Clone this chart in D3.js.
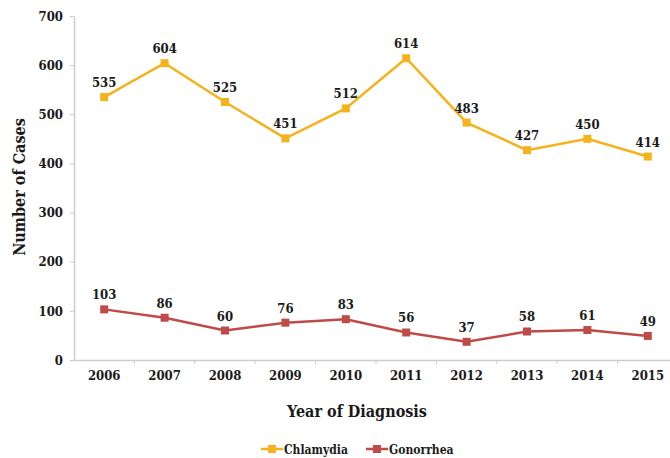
<!DOCTYPE html>
<html>
<head>
<meta charset="utf-8">
<script src="https://cdn.jsdelivr.net/npm/d3@7"></script>
<style>
  body { margin: 0; background: #fff; }
  svg text { font-family: "DejaVu Serif Condensed", "DejaVu Serif", serif; font-weight: bold; fill: #1a1a1a; }
  .axis path, .axis line { stroke: #c9cdd2; }
</style>
</head>
<body>
<svg width="670" height="458"></svg>
<script>
// data
const years = ['2006', '2007', '2008', '2009', '2010', '2011', '2012', '2013', '2014', '2015'];
const chlamydia = [535, 604, 525, 451, 512, 614, 483, 427, 450, 414];
const gonorrhea = [103, 86, 60, 76, 83, 56, 37, 58, 61, 49];
const yTicks = [0, 100, 200, 300, 400, 500, 600, 700];

const series = [
  { name: 'Chlamydia', values: chlamydia, color: '#f5b21b' },
  { name: 'Gonorrhea', values: gonorrhea, color: '#be4b48' }
];

const svg = d3.select('svg');

const plotLeft = 74, plotRight = 678, plotTop = 16, plotBottom = 360;

const xScale = d3.scaleBand()
  .domain(years)
  .range([plotLeft, plotRight]);

const yScale = d3.scaleLinear()
  .domain([0, 700])
  .range([plotBottom, plotTop]);

// y axis
const yAxis = svg.append('g')
  .attr('class', 'axis')
  .attr('transform', `translate(${plotLeft},0)`)
  .call(d3.axisLeft(yScale).tickValues(yTicks).tickSize(4).tickSizeOuter(0).tickPadding(7));
yAxis.selectAll('text').style('font-size', '13px');
yAxis.select('.domain').attr('stroke-width', 1.5);

// x axis - ticks sit on band boundaries
const xAxis = svg.append('g')
  .attr('class', 'axis')
  .attr('transform', `translate(0,${plotBottom})`)
  .call(d3.axisBottom(xScale).tickSize(0).tickSizeOuter(0).tickPadding(11));
xAxis.selectAll('text').style('font-size', '13px');
xAxis.select('.domain').attr('stroke-width', 1.5);
xAxis.selectAll('.bound')
  .data(years.slice(1))
  .enter()
  .append('line')
  .attr('x1', d => xScale(d))
  .attr('x2', d => xScale(d))
  .attr('y1', 0)
  .attr('y2', 4)
  .attr('stroke', '#c9cdd2');

const cx = d => xScale(d) + xScale.bandwidth() / 2;

const line = d3.line()
  .x((d, i) => cx(years[i]))
  .y(d => yScale(d));

series.forEach(s => {
  const g = svg.append('g');
  g.append('path')
    .datum(s.values)
    .attr('d', line)
    .attr('fill', 'none')
    .attr('stroke', s.color)
    .attr('stroke-width', 2.5);

  g.selectAll('rect')
    .data(s.values)
    .enter()
    .append('rect')
    .attr('x', (d, i) => cx(years[i]) - 4)
    .attr('y', d => yScale(d) - 4)
    .attr('width', 8)
    .attr('height', 8)
    .attr('fill', s.color);

  g.selectAll('text')
    .data(s.values)
    .enter()
    .append('text')
    .attr('x', (d, i) => cx(years[i]))
    .attr('y', d => yScale(d) - 10)
    .attr('text-anchor', 'middle')
    .style('font-size', '13px')
    .text(d => d);
});

// axis titles
svg.append('text')
  .attr('transform', 'translate(25,187) rotate(-90)')
  .attr('text-anchor', 'middle')
  .style('font-size', '16px')
  .text('Number of Cases');

svg.append('text')
  .attr('x', 357)
  .attr('y', 417)
  .attr('text-anchor', 'middle')
  .style('font-size', '16px')
  .text('Year of Diagnosis');

// legend
const legend = svg.append('g');
const legendX = [261, 366];
series.forEach((s, i) => {
  const lg = legend.append('g').attr('transform', `translate(${legendX[i]},449)`);
  lg.append('line')
    .attr('x1', 0).attr('x2', 22)
    .attr('stroke', s.color)
    .attr('stroke-width', 2.5);
  lg.append('rect')
    .attr('x', 7).attr('y', -4)
    .attr('width', 8).attr('height', 8)
    .attr('fill', s.color);
  lg.append('text')
    .attr('x', 23)
    .attr('y', 4.5)
    .style('font-size', '12px')
    .text(s.name);
});
</script>
</body>
</html>
